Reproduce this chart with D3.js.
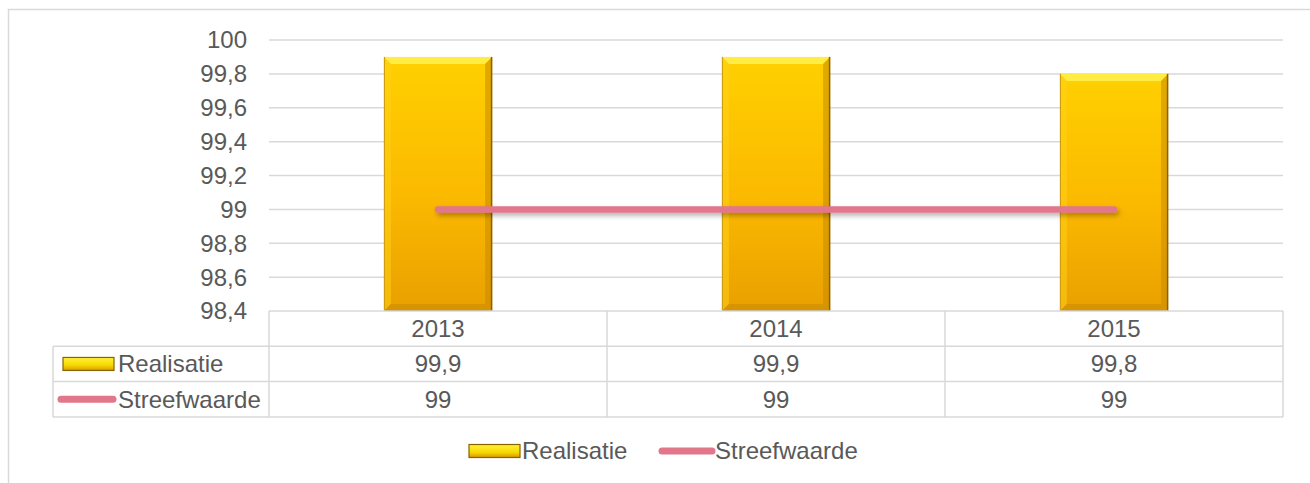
<!DOCTYPE html>
<html>
<head>
<meta charset="utf-8">
<script src="https://cdn.jsdelivr.net/npm/d3@7"></script>
<style>
  body { margin: 0; background: #fff; }
  text { font-family: "Liberation Sans", Arial, sans-serif; fill: #595959; }
</style>
</head>
<body>
<svg id="chart" width="1310" height="483"></svg>
<script>
// data
var years = ['2013', '2014', '2015'];
var realisatie = [99.9, 99.9, 99.8];
var streefwaarde = [99, 99, 99];
var yTicks = [98.4, 98.6, 98.8, 99, 99.2, 99.4, 99.6, 99.8, 100];
var seriesNames = ['Realisatie', 'Streefwaarde'];

var svg = d3.select('#chart');
var fmt = function(v) { return String(v).replace('.', ','); };

var plot = { left: 269, right: 1283, top: 40, bottom: 311 };
var rowH = 35.3;
var tableLeft = 53;
var gridColor = '#d9d9d9';
var fs = 24;

var x = d3.scaleBand().domain(years).range([plot.left, plot.right]).padding(0);
var y = d3.scaleLinear().domain([98.4, 100]).range([plot.bottom, plot.top]);
var barW = x.bandwidth() * 0.32;

var defs = svg.append('defs');
var grad = defs.append('linearGradient').attr('id', 'barGrad')
  .attr('x1', 0).attr('y1', 0).attr('x2', 0).attr('y2', 1);
grad.append('stop').attr('offset', '0%').attr('stop-color', '#ffd000');
grad.append('stop').attr('offset', '55%').attr('stop-color', '#fbb900');
grad.append('stop').attr('offset', '100%').attr('stop-color', '#e9a000');

var lgGrad = defs.append('linearGradient').attr('id', 'legGrad')
  .attr('x1', 0).attr('y1', 0).attr('x2', 0).attr('y2', 1);
lgGrad.append('stop').attr('offset', '0%').attr('stop-color', '#fff23a');
lgGrad.append('stop').attr('offset', '60%').attr('stop-color', '#f7d800');
lgGrad.append('stop').attr('offset', '100%').attr('stop-color', '#d69a00');

// userSpaceOnUse, a flat line has no bbox height
var shadow = defs.append('filter').attr('id', 'lineShadow')
  .attr('filterUnits', 'userSpaceOnUse')
  .attr('x', 0).attr('y', 0).attr('width', 1310).attr('height', 483);
shadow.append('feDropShadow').attr('dx', 2).attr('dy', 3).attr('stdDeviation', 2.5)
  .attr('flood-color', '#000').attr('flood-opacity', 0.3);

// outer frame
svg.append('rect').attr('x', 8.5).attr('y', 9.5).attr('width', 1320).attr('height', 500)
  .attr('fill', 'none').attr('stroke', gridColor).attr('stroke-width', 1.5);

// gridlines
svg.append('g').selectAll('line').data(yTicks.slice(1)).join('line')
  .attr('x1', plot.left).attr('x2', plot.right)
  .attr('y1', function(d) { return y(d); }).attr('y2', function(d) { return y(d); })
  .attr('stroke', gridColor).attr('stroke-width', 1.5);

// y labels
svg.append('g').selectAll('text').data(yTicks).join('text')
  .attr('x', 247).attr('y', function(d) { return y(d); })
  .attr('dy', '0.35em').attr('text-anchor', 'end')
  .attr('font-size', fs).text(fmt);

// bars
var bars = svg.append('g').selectAll('g').data(realisatie).join('g');
bars.each(function(v, i) {
  var g = d3.select(this);
  var x0 = x(years[i]) + (x.bandwidth() - barW) / 2, x1 = x0 + barW;
  var y0 = y(v), y1 = y(98.4), b = 7;
  g.append('rect').attr('x', x0).attr('y', y0).attr('width', barW).attr('height', y1 - y0)
    .attr('fill', 'url(#barGrad)');
  // bevel edges
  g.append('polygon').attr('points', [[x0, y0], [x1, y0], [x1 - b, y0 + b], [x0 + b, y0 + b]].join(' '))
    .attr('fill', '#fff04a').attr('opacity', 0.9);
  g.append('polygon').attr('points', [[x0, y0], [x0 + b, y0 + b], [x0 + b, y1 - b], [x0, y1]].join(' '))
    .attr('fill', '#ffd21a').attr('opacity', 0.5);
  g.append('polygon').attr('points', [[x1, y0], [x1, y1], [x1 - b, y1 - b], [x1 - b, y0 + b]].join(' '))
    .attr('fill', '#c98a00').attr('opacity', 0.55);
  g.append('polygon').attr('points', [[x0, y1], [x1, y1], [x1 - b, y1 - b], [x0 + b, y1 - b]].join(' '))
    .attr('fill', '#d08e00').attr('opacity', 0.7);
  g.append('line').attr('x1', x1 - 0.5).attr('x2', x1 - 0.5).attr('y1', y0).attr('y2', y1)
    .attr('stroke', '#8a6200').attr('stroke-width', 1.5);
  g.append('line').attr('x1', x0).attr('x2', x1).attr('y1', y1 - 0.5).attr('y2', y1 - 0.5)
    .attr('stroke', '#9a6e00').attr('stroke-width', 1.2);
  g.append('line').attr('x1', x0 + 0.5).attr('x2', x0 + 0.5).attr('y1', y0).attr('y2', y1)
    .attr('stroke', '#c99a10').attr('stroke-width', 1);
});

// target line
var line = d3.line()
  .x(function(d, i) { return x(years[i]) + x.bandwidth() / 2; })
  .y(function(d) { return y(d); });
svg.append('path').datum(streefwaarde).attr('d', line)
  .attr('fill', 'none').attr('stroke', '#e2768b').attr('stroke-width', 6.5)
  .attr('stroke-linecap', 'round').attr('filter', 'url(#lineShadow)');

// data table
var table = svg.append('g').attr('fill', 'none').attr('stroke', gridColor).attr('stroke-width', 1.5);
var tTop = plot.bottom, tBot = plot.bottom + rowH * 3;
table.append('line').attr('x1', plot.left).attr('x2', plot.right).attr('y1', tTop).attr('y2', tTop);
[1, 2, 3].forEach(function(r) {
  table.append('line').attr('x1', tableLeft).attr('x2', plot.right)
    .attr('y1', tTop + rowH * r).attr('y2', tTop + rowH * r);
});
table.append('line').attr('x1', tableLeft).attr('x2', tableLeft).attr('y1', tTop + rowH).attr('y2', tBot);
years.concat(['end']).forEach(function(yr, i) {
  var xx = i < years.length ? x(yr) : plot.right;
  table.append('line').attr('x1', xx).attr('x2', xx).attr('y1', tTop).attr('y2', tBot);
});

var rows = [years, realisatie.map(fmt), streefwaarde.map(fmt)];
rows.forEach(function(row, r) {
  svg.append('g').selectAll('text').data(row).join('text')
    .attr('x', function(d, i) { return x(years[i]) + x.bandwidth() / 2; })
    .attr('y', tTop + rowH * r + rowH / 2)
    .attr('dy', '0.35em').attr('text-anchor', 'middle').attr('font-size', fs)
    .text(function(d) { return d; });
});

function barKey(g, x0, yc) {
  g.append('rect').attr('x', x0).attr('y', yc - 6.5).attr('width', 51).attr('height', 13)
    .attr('fill', 'url(#legGrad)').attr('stroke', '#8a6200').attr('stroke-width', 1.2);
}
function lineKey(g, x0, yc, len) {
  g.append('line').attr('x1', x0 + 3).attr('x2', x0 + len - 3).attr('y1', yc).attr('y2', yc)
    .attr('stroke', '#e2768b').attr('stroke-width', 7).attr('stroke-linecap', 'round');
}

// table row keys
var keys = svg.append('g');
barKey(keys, 63, tTop + rowH * 1.5);
lineKey(keys, 58, tTop + rowH * 2.5, 58);
seriesNames.forEach(function(name, i) {
  keys.append('text').attr('x', 118).attr('y', tTop + rowH * (i + 1.5))
    .attr('dy', '0.35em').attr('font-size', fs).text(name);
});

// legend
var legend = svg.append('g');
var ly = 451;
barKey(legend, 469, ly);
legend.append('text').attr('x', 522).attr('y', ly).attr('dy', '0.35em').attr('font-size', fs).text(seriesNames[0]);
lineKey(legend, 659, ly, 56);
legend.append('text').attr('x', 715).attr('y', ly).attr('dy', '0.35em').attr('font-size', fs).text(seriesNames[1]);
</script>
</body>
</html>
